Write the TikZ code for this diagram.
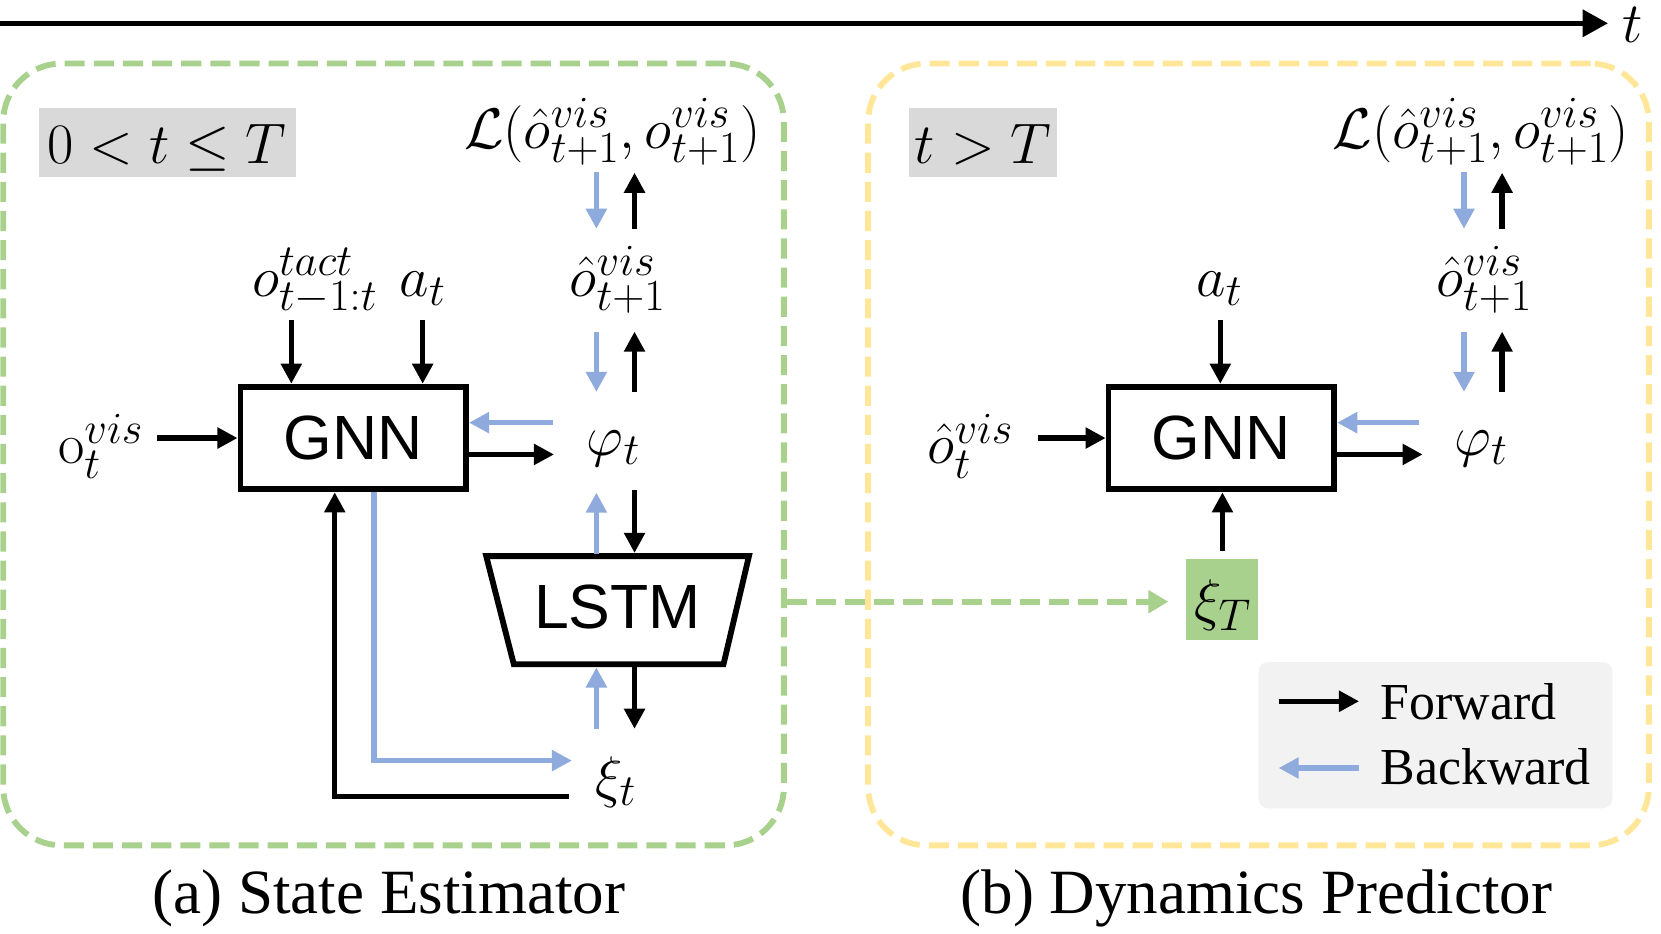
\RequirePackage{fix-cm}
\documentclass[tikz,border=0pt]{standalone}
\usepackage[no-math]{fontspec}
\setmainfont{Liberation Serif}
\newfontfamily\arialf{Liberation Sans}
\usetikzlibrary{arrows.meta}
\DeclareMathSizes{54}{54}{42}{31}
\definecolor{cgreen}{HTML}{A9D18E}
\definecolor{cyellow}{HTML}{FFE699}
\definecolor{cblue}{HTML}{8FAADC}
\definecolor{cgray}{HTML}{D9D9D9}
\definecolor{clegend}{HTML}{F2F2F2}
\tikzset{
  fw/.style={line width=5pt, -{Triangle[length=19pt,width=19pt]}},
  bw/.style={line width=5pt, cblue, -{Triangle[length=19pt,width=19pt]}},
  mlab/.style={anchor=base, inner sep=0pt, font=\fontsize{54}{60}\selectfont},
  blk/.style={draw, line width=5.5pt, font=\arialf\fontsize{59}{64}\selectfont,
    minimum width=213pt, minimum height=97pt, inner sep=0pt},
  panel/.style={draw, line width=5.5pt, dash pattern=on 19pt off 8.5pt,
    rounded corners=55pt, minimum width=737pt, minimum height=738pt, inner sep=0pt},
  condbox/.style={fill=cgray, minimum height=65pt, inner sep=0pt},
  captxt/.style={anchor=base, inner sep=0pt, font=\fontsize{59.5}{66}\selectfont},
  legtxt/.style={anchor=base west, inner sep=0pt, font=\fontsize{49}{55}\selectfont}
}
\begin{document}
\begin{tikzpicture}[x=1pt,y=-1pt]
\useasboundingbox (0,0) rectangle (1568,881);

% time axis
\coordinate (tstart) at (0,22);
\coordinate (tend) at (1518,22);
\draw[line width=5pt,-{Triangle[length=24pt,width=25pt]}] (tstart) -- (tend);
\node[mlab] (tlab) at (1541,40) {$t$};

% panels
\node[panel, draw=cgreen] (panelA) at (371.5,429) {};
\node[panel, draw=cyellow] (panelB) at (1188,429) {};

% condition boxes
\node[condbox, minimum width=242pt] (condA) at (158,134.5) {};
\node[mlab] (condAt) at (157.5,154) {$0<t\leq T$};
\node[condbox, minimum width=140pt] (condB) at (928,134.5) {};
\node[mlab] (condBt) at (928,154) {$t>T$};

% ---------------- panel (a) ----------------
\node[blk] (gnnA) at (333.5,413.5) {GNN};
\node[mlab] (ovisA) at (95,438) {$\mathrm{o}_t^{vis}$};
\node[mlab] (otact) at (297,280) {$o^{tact}_{t-1:t}$};
\node[mlab] (atA) at (399,280) {$a_t$};
\node[mlab] (ohatA) at (583,280) {$\hat{o}^{vis}_{t+1}$};
\node[mlab] (lossA) at (578,140) {$\mathcal{L}(\hat{o}^{vis}_{t+1},o^{vis}_{t+1})$};
\node[mlab] (phiA) at (579,430) {$\varphi_t$};
\node[mlab] (xiA) at (581,752) {$\xi_t$};

\draw[line width=5.5pt, line join=miter] (459,525) -- (707,525) -- (683,627) -- (485,627) -- cycle;
\node[inner sep=0pt, font=\arialf\fontsize{59}{64}\selectfont] (lstm) at (583,573) {LSTM};

\coordinate (a1) at (148,413.5);
\draw[fw] (a1) -- (gnnA.west);
\coordinate (a2) at (275,302);
\draw[fw] (a2) -- (gnnA.north -| a2);
\coordinate (a3) at (399,302);
\draw[fw] (a3) -- (gnnA.north -| a3);
\coordinate (a4) at (522,399);
\draw[bw] (a4) -- (gnnA.east |- a4);
\coordinate (a5) at (523,429);
\draw[fw] (gnnA.east |- a5) -- (a5);
% loss <-> ohat
\coordinate (l1) at (563,162); \coordinate (l2) at (563,216);
\draw[bw] (l1) -- (l2);
\coordinate (l3) at (599,216); \coordinate (l4) at (599,163);
\draw[fw] (l3) -- (l4);
% ohat <-> phi
\coordinate (p1) at (563,313); \coordinate (p2) at (563,370);
\draw[bw] (p1) -- (p2);
\coordinate (p3) at (599,370); \coordinate (p4) at (599,313);
\draw[fw] (p3) -- (p4);
% phi <-> lstm
\coordinate (s1) at (563,523); \coordinate (s2) at (563,465);
\draw[bw] (s1) -- (s2);
\coordinate (s3) at (599,463); \coordinate (s4) at (599,522);
\draw[fw] (s3) -- (s4);
% lstm <-> xi
\coordinate (x1) at (563,688); \coordinate (x2) at (563,630);
\draw[bw] (x1) -- (x2);
\coordinate (x3) at (599,630); \coordinate (x4) at (599,688);
\draw[fw] (x3) -- (x4);
% loops
\coordinate (bwx) at (353,0);
\coordinate (xiin) at (540,718);
\draw[bw, line join=miter] (gnnA.south -| bwx) |- (xiin);
\coordinate (fwx) at (316,0);
\coordinate (xiout) at (537,752);
\draw[fw, line join=miter] (xiout) -| (gnnA.south -| fwx);

% ---------------- panel (b) ----------------
\node[blk] (gnnB) at (1153,413.5) {GNN};
\node[mlab] (ovisB) at (916,438) {$\hat{o}_t^{vis}$};
\node[mlab] (atB) at (1151,280) {$a_t$};
\node[mlab] (ohatB) at (1401,280) {$\hat{o}^{vis}_{t+1}$};
\node[mlab] (lossB) at (1398,140) {$\mathcal{L}(\hat{o}^{vis}_{t+1},o^{vis}_{t+1})$};
\node[mlab] (phiB) at (1398,430) {$\varphi_t$};
\node[fill=cgreen, minimum width=68pt, minimum height=76pt, inner sep=0pt] (xiTbox) at (1154,566) {};
\node[mlab] (xiT) at (1154,585) {$\xi_T$};

\coordinate (b1) at (980,413.5);
\draw[fw] (b1) -- (gnnB.west);
\coordinate (b2) at (1152,302);
\draw[fw] (b2) -- (gnnB.north -| b2);
\coordinate (b4) at (1340,399);
\draw[bw] (b4) -- (gnnB.east |- b4);
\coordinate (b5) at (1343,429);
\draw[fw] (gnnB.east |- b5) -- (b5);
\coordinate (m1) at (1382,162); \coordinate (m2) at (1382,216);
\draw[bw] (m1) -- (m2);
\coordinate (m3) at (1418,216); \coordinate (m4) at (1418,163);
\draw[fw] (m3) -- (m4);
\coordinate (n1) at (1382,313); \coordinate (n2) at (1382,370);
\draw[bw] (n1) -- (n2);
\coordinate (n3) at (1418,370); \coordinate (n4) at (1418,313);
\draw[fw] (n3) -- (n4);
\coordinate (xt1) at (1154,520);
\draw[fw] (xt1) -- (gnnB.south -| xt1);

% transfer
\coordinate (gA) at (0,568);
\coordinate (gB) at (1103,568);
\draw[cgreen, line width=5.5pt, dash pattern=on 19pt off 8.5pt,
  -{Triangle[length=19pt,width=21pt]}] (panelA.east |- gA) -- (gB);

% legend
\node[fill=clegend, rounded corners=9pt, minimum width=334pt, minimum height=138pt, inner sep=0pt] (legend) at (1355,694) {};
\coordinate (lf1) at (1207,662); \coordinate (lf2) at (1283,662);
\draw[fw] (lf1) -- (lf2);
\coordinate (lb1) at (1283,725); \coordinate (lb2) at (1207,725);
\draw[bw] (lb1) -- (lb2);
\node[legtxt] (fwtxt) at (1303,679) {Forward};
\node[legtxt] (bwtxt) at (1303,741) {Backward};

% captions
\node[captxt] (capA) at (367,862) {(a) State Estimator};
\node[captxt] (capB) at (1186,862) {(b) Dynamics Predictor};
\end{tikzpicture}
\end{document}
